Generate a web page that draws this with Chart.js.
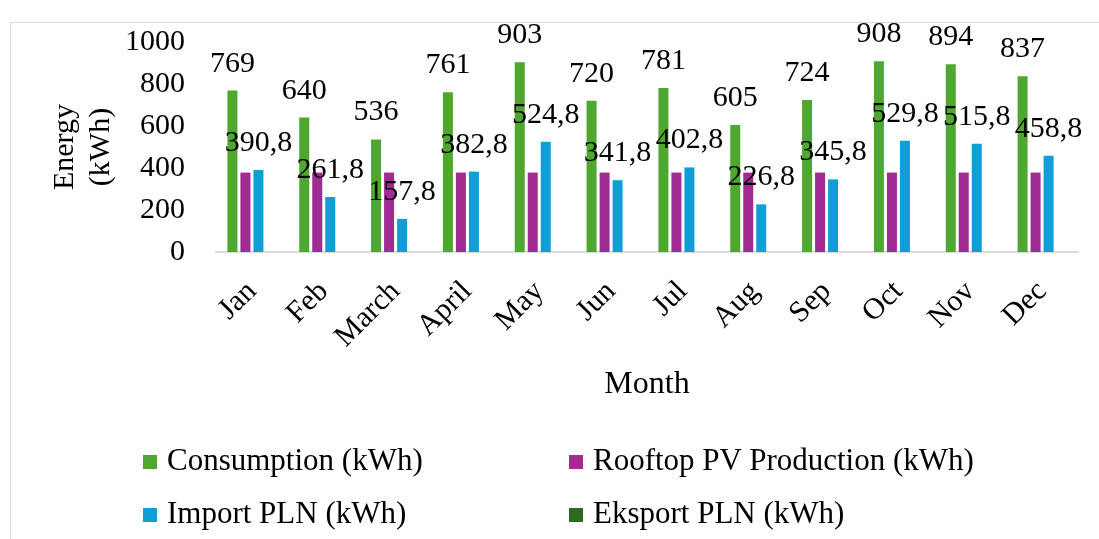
<!DOCTYPE html>
<html>
<head>
<meta charset="utf-8">
<script src="https://cdn.jsdelivr.net/npm/chart.js@4/dist/chart.umd.min.js"></script>
<style>
	html, body { margin: 0; padding: 0; background: #fff; overflow: hidden; }
	#wrap { position: relative; width: 1099px; height: 539px; overflow: hidden; }
	#frame { position: absolute; left: 10px; top: 22px; width: 1200px; height: 700px; border: 1px solid #d9d9d9; box-sizing: border-box; }
	#plot { position: absolute; left: 0; top: 0; }
	.lg { position: absolute; font: 31px 'Liberation Serif', 'Times New Roman', serif; color: #000; white-space: nowrap; line-height: 36px; }
	.lg i { display: inline-block; width: 14px; height: 14px; margin-right: 10px; vertical-align: 1px; }
</style>
</head>
<body>
<div id="wrap">
	<div id="frame"></div>
	<canvas id="plot" width="1099" height="539"></canvas>
	<div id="legend"></div>
</div>
<script>
const months = ['Jan', 'Feb', 'March', 'April', 'May', 'Jun', 'Jul', 'Aug', 'Sep', 'Oct', 'Nov', 'Dec'];
const consumption = [769, 640, 536, 761, 903, 720, 781, 605, 724, 908, 894, 837];
const pv_production = [378.2, 378.2, 378.2, 378.2, 378.2, 378.2, 378.2, 378.2, 378.2, 378.2, 378.2, 378.2];
const import_pln = [390.8, 261.8, 157.8, 382.8, 524.8, 341.8, 402.8, 226.8, 345.8, 529.8, 515.8, 458.8];
const eksport_pln = [0, 0, 0, 0, 0, 0, 0, 0, 0, 0, 0, 0];
const y_ticks = [0, 200, 400, 600, 800, 1000];

const serif = "'Liberation Serif', 'Times New Roman', serif";

// value labels above consumption and import bars
const valueLabels =
{
	id: 'valueLabels',
	afterDatasetsDraw(chart)
	{
		const ctx = chart.ctx;
		ctx.save();
		ctx.font = '30px ' + serif;
		ctx.fillStyle = '#000';
		ctx.textAlign = 'center';
		ctx.textBaseline = 'alphabetic';

		for (const i of [0, 2])
		{
			const meta = chart.getDatasetMeta(i);
			const vals = chart.data.datasets[i].data;

			meta.data.forEach(function(bar, j)
			{
				const txt = String(vals[j]).replace('.', ',');
				ctx.fillText(txt, bar.x, bar.y - 19);
			});
		}
		ctx.restore();
	}
};

const ctx = document.getElementById('plot').getContext('2d');
const plot = new Chart(ctx,
{
	type: 'bar',
	data:
	{
		labels: months,
		datasets:
		[
			{ label: 'Consumption (kWh)', data: consumption, backgroundColor: '#4EA72E' },
			{ label: 'Rooftop PV Production (kWh)', data: pv_production, backgroundColor: '#A02B93' },
			{ label: 'Import PLN (kWh)', data: import_pln, backgroundColor: '#0F9ED5' },
			{ label: 'Eksport PLN (kWh)', data: eksport_pln, backgroundColor: '#2E6B22' }
		]
	},
	options:
	{
		responsive: false,
		animation: false,
		categoryPercentage: 0.724,
		barPercentage: 0.77,
		layout: { padding: { top: 42, left: 47, right: 21, bottom: 135 } },
		plugins:
		{
			legend: { display: false },
			tooltip: { enabled: false }
		},
		scales:
		{
			x:
			{
				grid: { display: false, drawTicks: false },
				border: { display: true, color: '#d9d9d9', width: 2 },
				ticks:
				{
					color: '#000',
					font: { family: serif, size: 30 },
					minRotation: 45,
					maxRotation: 45,
					autoSkip: false,
					padding: 22
				},
				title:
				{
					display: true,
					text: 'Month',
					color: '#000',
					font: { family: serif, size: 32, lineHeight: 1.2 },
					padding: 0
				},
				afterFit: function(s) { s.height = 152; }
			},
			y:
			{
				min: 0,
				max: 1000,
				grid: { display: false, drawTicks: false },
				border: { display: false },
				afterBuildTicks: function(s) { s.ticks = y_ticks.map(v => ({ value: v })); },
				ticks:
				{
					color: '#000',
					font: { family: serif, size: 30 },
					padding: 31,
					callback: function(v) { return String(v); }
				},
				title:
				{
					display: true,
					text: ['Energy', '(kWh)'],
					color: '#000',
					font: { family: serif, size: 30, lineHeight: 1.2 },
					padding: 0
				},
				// tick padding also pads top/bottom, drop that
				afterFit: function(s)
				{
					s.width = 169;
					s.paddingTop = 0;
					s.paddingBottom = 0;
				}
			}
		}
	},
	plugins: [valueLabels]
});

// two-column legend under the chart
const lg_pos = [[143, 442], [569, 442], [143, 495], [569, 495]];
let html = '';
plot.data.datasets.forEach(function(d, k)
{
	html += `<div class="lg" style="left:${lg_pos[k][0]}px;top:${lg_pos[k][1]}px"><i style="background:${d.backgroundColor}"></i>${d.label}</div>`;
});
document.getElementById('legend').innerHTML = html;
</script>
</body>
</html>
